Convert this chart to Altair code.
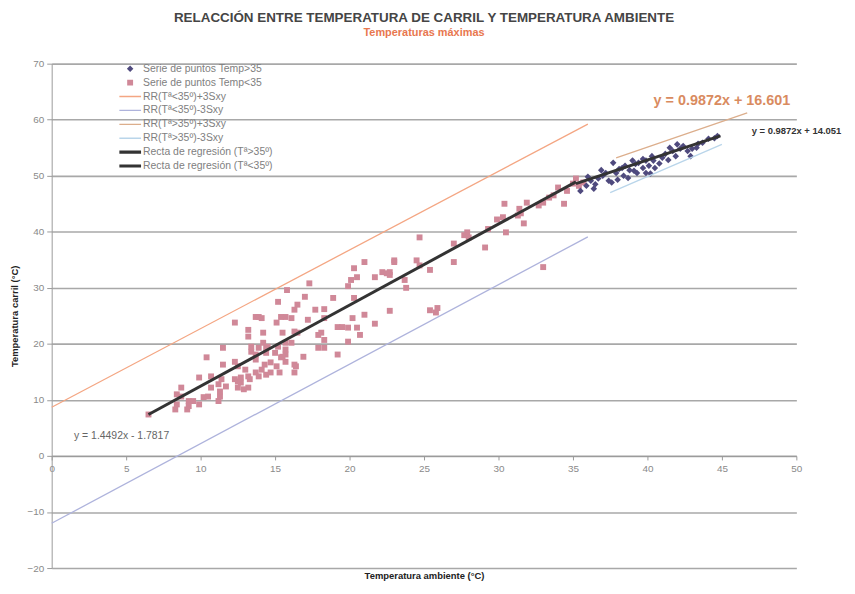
import altair as alt
import pandas as pd

FONT = "Liberation Sans"

# ---- series / legend entries ----
SERIES = [
    "Serie de puntos Temp>35",
    "Serie de puntos Temp<35",
    "RR(Tª<35º)+3Sxy",
    "RR(Tª<35º)-3Sxy",
    "RR(Tª>35º)+3Sxy",
    "RR(Tª>35º)-3Sxy",
    "Recta de regresión (Tª>35º)",
    "Recta de regresión (Tª<35º)",
]
COLORS = ["#4f4a7e", "#d08898", "#f4a683", "#aeb3dc", "#dcae8c", "#b9d5ea", "#333333", "#333333"]

# symbol outlines in the unit square (-1..1), used for the markers and the legend
DIAMOND = "M0,-0.3L0.3,0L0,0.3L-0.3,0Z"
SQUARE = "M-0.27,-0.27L0.27,-0.27L0.27,0.27L-0.27,0.27Z"
THIN = "M-1,-0.06L1,-0.06L1,0.06L-1,0.06Z"
THICK = "M-1,-0.14L1,-0.14L1,0.14L-1,0.14Z"
SHAPES = [DIAMOND, SQUARE, THIN, THIN, THIN, THIN, THICK, THICK]

# ---- points Temp>35 (diamonds) ----
hot_x = [35.5, 35.9, 36.2, 36.4, 36.0, 36.7, 37.0, 37.2, 37.4, 37.7, 37.9, 38.1, 38.3, 38.5,
         38.4, 38.7, 39.0, 39.2, 39.4, 39.7, 39.9, 39.1, 39.3, 39.7, 40.1, 40.3, 40.4, 39.9,
         40.2, 40.5, 41.0, 41.2, 41.5, 41.7, 41.9, 42.2, 42.4, 42.7, 42.9, 43.0, 43.3, 43.4,
         43.7, 44.1, 44.5, 44.7, 36.5, 37.6, 38.0, 38.8, 40.8, 41.4, 42.0, 36.9]
hot_y = [47.3, 48.2, 49.1, 47.7, 49.8, 49.5, 50.0, 50.5, 49.1, 52.3, 50.5, 51.2, 51.4, 51.8,
         50.0, 49.6, 52.7, 52.1, 52.3, 53.0, 52.7, 50.9, 50.5, 51.4, 51.8, 53.5, 52.7, 50.5,
         50.4, 51.4, 53.2, 53.9, 55.0, 54.4, 53.5, 54.8, 55.3, 54.4, 53.5, 54.8, 55.0, 55.7,
         55.9, 56.6, 56.7, 57.1, 48.5, 48.8, 49.3, 51.0, 52.2, 52.8, 55.6, 51.0]

# ---- points Temp<35 (squares) ----
cold_x = [6.5, 8.3, 9.1, 8.4, 9.2, 9.9, 9.2, 9.5, 8.4, 8.7, 8.7, 10.2, 11.3, 11.2, 10.7, 11.3,
          9.9, 10.7, 11.4, 11.2, 11.7, 12.3, 12.5, 12.7, 13.3, 13.2, 12.9, 12.5, 12.5, 13.0,
          13.2, 12.7, 13.7, 14.1, 13.9, 14.4, 14.7, 15.3, 16.3, 14.7, 15.1, 15.7, 16.3, 10.4,
          11.5, 11.5, 12.3, 13.4, 13.7, 14.2, 14.4, 15.0, 15.7, 15.7, 15.4, 13.2, 14.2, 15.5,
          16.3, 16.1, 12.3, 13.7, 10.5,
          21.0, 23.0, 20.3, 22.2, 22.5, 20.5, 20.1, 21.7, 19.9, 17.3, 15.8, 17.0, 18.9, 20.3,
          15.2, 16.5, 17.7, 18.3, 16.3, 15.7, 15.4, 13.9, 14.1, 16.1, 17.2, 18.3, 21.0, 20.2,
          15.1, 19.2, 19.5, 19.9, 20.5, 20.7, 21.7, 16.5, 17.9, 18.1, 13.2, 18.3, 13.4, 13.9,
          14.5, 15.2, 15.7, 19.9, 17.9, 18.3, 14.4, 15.5, 16.9, 19.2, 13.7, 14.3, 16.4,
          35.2, 35.7, 35.4, 34.0, 33.7, 33.4, 34.4, 33.0, 32.7, 31.9, 30.4, 31.4, 31.5, 31.3,
          30.3, 29.9, 31.7, 30.5, 27.9, 27.7, 28.0, 24.7, 27.0, 29.1, 23.0, 24.5, 24.7, 27.0,
          25.4, 22.7, 22.7, 33.0,
          22.7, 25.4, 25.8, 25.9, 23.8, 23.7, 29.3, 34.6, 35.0]
cold_y = [7.4, 8.3, 8.3, 9.2, 8.9, 9.2, 9.8, 9.8, 11.0, 10.6, 12.2, 10.5, 10.6, 9.8, 12.2, 11.5,
          14.0, 14.2, 13.7, 12.8, 12.4, 13.7, 13.3, 13.1, 13.7, 12.2, 11.9, 12.2, 16.0, 15.4,
          14.2, 14.0, 14.9, 15.4, 14.2, 14.5, 14.9, 14.9, 14.9, 16.7, 16.0, 16.8, 16.3, 17.6,
          19.3, 16.3, 16.8, 18.6, 18.1, 20.2, 19.3, 18.4, 19.0, 18.1, 17.6, 22.5, 22.0, 22.0,
          22.2, 20.2, 23.8, 24.8, 10.6,
          34.6, 34.6, 33.5, 32.8, 32.6, 31.9, 31.4, 31.9, 30.3, 30.8, 29.6, 28.4, 28.2, 28.2,
          27.5, 27.0, 26.1, 26.2, 26.1, 24.8, 24.8, 24.8, 24.6, 24.6, 24.3, 24.6, 25.2, 24.6,
          23.8, 23.0, 23.0, 22.9, 22.9, 21.6, 23.6, 22.0, 21.6, 22.0, 21.3, 20.7, 19.5, 19.3,
          19.5, 19.5, 20.2, 20.4, 19.3, 19.3, 18.4, 17.7, 17.7, 18.1, 17.2, 16.3, 16.0,
          49.5, 48.8, 48.2, 47.9, 46.5, 46.1, 45.0, 45.2, 44.7, 45.2, 45.0, 44.1, 43.3, 42.9,
          42.6, 42.2, 41.5, 39.9, 39.9, 39.4, 39.0, 39.0, 37.9, 37.2, 34.9, 34.9, 34.0, 34.6,
          33.2, 32.8, 32.3, 33.7,
          25.9, 26.0, 25.6, 26.4, 30.0, 31.4, 40.5, 47.3, 48.6]

# ---- regression and band lines (end points) ----
line_names = SERIES[2:]
line_x0 = [0.0, 0.0, 37.9, 37.5, 35.2, 6.5]
line_x1 = [36.0, 36.0, 46.7, 45.0, 44.9, 35.2]
line_y0 = [8.7, -12.0, 53.2, 47.0, 48.6, 7.4]
line_y1 = [59.2, 39.1, 61.2, 55.6, 57.1, 48.9]

# ---- equation labels ----
eq_text = ["y = 0.9872x + 16.601", "y = 0.9872x + 14.051", "y = 1.4492x - 1.7817"]
eq_x = [45.0, 47.0, 1.5]
eq_y = [63.3, 58.0, 3.5]

X_TICKS = list(range(0, 51, 5))
Y_TICKS = list(range(-20, 71, 10))

W, H = 750, 508
Y_MIN, Y_MAX = -20, 70

hot = pd.DataFrame({"x": hot_x, "y": hot_y, "serie": SERIES[0]})
cold = pd.DataFrame({"x": cold_x, "y": cold_y, "serie": SERIES[1]})
rows = []
for n, a, b, c, d in zip(line_names, line_x0, line_x1, line_y0, line_y1):
    rows.append({"serie": n, "x": a, "y": c})
    rows.append({"serie": n, "x": b, "y": d})
lines = pd.DataFrame(rows)
thin = lines[~lines["serie"].str.startswith("Recta")]
thick = lines[lines["serie"].str.startswith("Recta")]

legend = alt.Legend(
    title=None, orient="none", legendX=68, legendY=0, padding=0,
    labelFont=FONT, labelFontSize=10.5, labelColor="#808080", labelLimit=400, labelOffset=2,
    symbolSize=484, symbolStrokeWidth=0, clipHeight=10.2, rowPadding=3, symbolOpacity=1,
)

color_scale = alt.Scale(domain=SERIES, range=COLORS)
shape_scale = alt.Scale(domain=SERIES, range=SHAPES)
xs = alt.Scale(domain=[0, 50], nice=False, zero=False)
ys = alt.Scale(domain=[Y_MIN, Y_MAX], nice=False, zero=False)
offset0 = H * (0 - Y_MIN) / (Y_MAX - Y_MIN)

x_axis = alt.Axis(values=X_TICKS, title="Temperatura ambiente (°C)", offset=-offset0, grid=False,
                  domainColor="#9a9a9a", tickColor="#9a9a9a", tickSize=4, labelColor="#8a8a8a",
                  labelFontSize=10, labelPadding=4, labelFlush=False, titleFontSize=9.5,
                  titleFontWeight="bold", titleColor="#222222", titleY=115)
y_axis = alt.Axis(values=Y_TICKS, title="Temperatura carril (°C)", grid=True, gridColor="#a8a8a8",
                  gridWidth=1.6, domainColor="#9a9a9a", tickColor="#9a9a9a", tickSize=5,
                  labelColor="#8a8a8a", labelFontSize=10, labelPadding=3, labelFlush=False,
                  titleFontSize=9.5, titleFontWeight="bold", titleColor="#222222", titlePadding=7)

X = alt.X("x:Q", scale=xs, axis=x_axis)
Y = alt.Y("y:Q", scale=ys, axis=y_axis)
C = alt.Color("serie:N", scale=color_scale, legend=legend)
S = alt.Shape("serie:N", scale=shape_scale, legend=legend)

cold_layer = alt.Chart(cold).mark_point(filled=True, opacity=1, size=484, strokeWidth=0).encode(
    x=X, y=Y, color=C, shape=S)
hot_layer = alt.Chart(hot).mark_point(filled=True, opacity=1, size=484, strokeWidth=0).encode(
    x=X, y=Y, color=C, shape=S)
thin_layer = alt.Chart(thin).mark_line(strokeWidth=1.3).encode(x=X, y=Y, color=C, detail="serie:N")
thick_layer = alt.Chart(thick).mark_line(strokeWidth=3).encode(x=X, y=Y, color=C, detail="serie:N")

eq = pd.DataFrame({"t": eq_text, "x": eq_x, "y": eq_y})
eq1 = alt.Chart(eq.iloc[[0]]).mark_text(font=FONT, fontSize=14.5, fontWeight="bold", color="#d98b5f",
                                         align="center", baseline="middle").encode(x=X, y=Y, text="t:N")
eq2 = alt.Chart(eq.iloc[[1]]).mark_text(font=FONT, fontSize=9.5, fontWeight="bold", color="#333333",
                                         align="left", baseline="middle").encode(x=X, y=Y, text="t:N")
eq3 = alt.Chart(eq.iloc[[2]]).mark_text(font=FONT, fontSize=10.5, color="#666666",
                                         align="left", baseline="middle").encode(x=X, y=Y, text="t:N")

chart = alt.layer(cold_layer, hot_layer, thin_layer, thick_layer, eq1, eq2, eq3).properties(
    width=W, height=H,
    autosize=alt.AutoSizeParams(type="none"),
    padding={"left": 44, "top": 54, "right": 51, "bottom": 14},
    title=alt.TitleParams(
        text="RELACCIÓN ENTRE TEMPERATURA DE CARRIL Y TEMPERATURA AMBIENTE",
        subtitle="Temperaturas máximas",
        font=FONT, fontSize=13.5, fontWeight="bold", color="#454545",
        subtitleFont=FONT, subtitleFontSize=11, subtitleFontWeight="bold", subtitleColor="#e8774f",
        subtitlePadding=2, anchor="middle", offset=21,
    ),
).configure_view(stroke=None).configure_axis(labelFont=FONT, titleFont=FONT)

chart.save("out.html", embed_options={"renderer": "svg", "actions": False})
